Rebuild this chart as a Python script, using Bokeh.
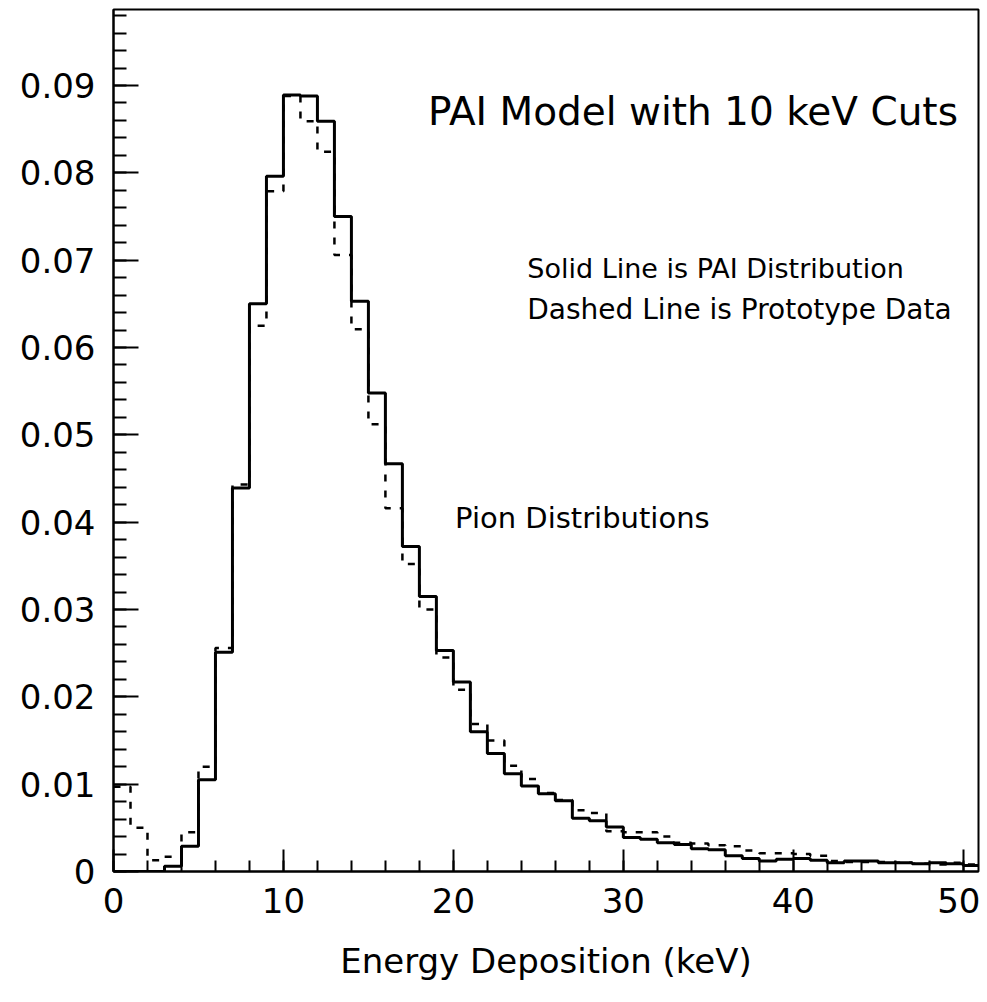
from bokeh.plotting import figure
from bokeh.models import Range1d, SingleIntervalTicker, Label, ColumnDataSource
from bokeh.embed import file_html
from bokeh.resources import INLINE

# 1 keV bins, edges 0..51
bin_edges = list(range(0, 52))

pai_values = [0, 0, 0, 0.0006, 0.0029, 0.0105, 0.0251, 0.0439, 0.0650, 0.0796,
              0.0889, 0.0888, 0.0859, 0.0750, 0.0653, 0.0548, 0.0467, 0.0372, 0.0315, 0.0253,
              0.0217, 0.0160, 0.0135, 0.0112, 0.0098, 0.0089, 0.0081, 0.0061, 0.0058, 0.0051,
              0.0039, 0.0037, 0.0033, 0.0031, 0.0026, 0.0025, 0.0018, 0.0015, 0.0012, 0.0014,
              0.0015, 0.0013, 0.0010, 0.0012, 0.0012, 0.0010, 0.0010, 0.0009, 0.0010, 0.0009,
              0.0007]

data_values = [0.0097, 0.0050, 0.0013, 0.0017, 0.0045, 0.0120, 0.0256, 0.0443, 0.0625, 0.0779,
               0.0888, 0.0859, 0.0824, 0.0706, 0.0621, 0.0512, 0.0416, 0.0352, 0.0300, 0.0245,
               0.0208, 0.0169, 0.0150, 0.0121, 0.0106, 0.0090, 0.0082, 0.0070, 0.0067, 0.0046,
               0.0045, 0.0045, 0.0040, 0.0033, 0.0032, 0.0030, 0.0029, 0.0024, 0.0021, 0.0021,
               0.0020, 0.0018, 0.0012, 0.0011, 0.0011, 0.0011, 0.0010, 0.0009, 0.0008, 0.0010,
               0.0008]

x_title = "Energy Deposition (keV)"
title_text = "PAI Model with 10 keV Cuts"
note_solid = "Solid Line is PAI Distribution"
note_dashed = "Dashed Line is Prototype Data"
note_pion = "Pion Distributions"

FONT = "DejaVu Sans"

p = figure(width=980, height=1000, output_backend="svg", toolbar_location=None,
           x_range=Range1d(0, 50.9), y_range=Range1d(0, 0.0987),
           min_border_left=113, min_border_right=2, min_border_top=9, min_border_bottom=129)

p.background_fill_color = "white"
p.border_fill_color = "white"
p.outline_line_color = "black"
p.outline_line_width = 2
p.xgrid.visible = False
p.ygrid.visible = False

p.xaxis.ticker = SingleIntervalTicker(interval=10, num_minor_ticks=5)
p.yaxis.ticker = SingleIntervalTicker(interval=0.01, num_minor_ticks=5)
for ax in (p.xaxis[0], p.yaxis[0]):
    ax.axis_line_color = "black"
    ax.axis_line_width = 2
    ax.major_tick_line_color = "black"
    ax.minor_tick_line_color = "black"
    ax.major_tick_line_width = 2
    ax.minor_tick_line_width = 2
    ax.major_tick_out = 0
    ax.minor_tick_out = 0
    ax.major_label_text_font = FONT
    ax.major_label_text_font_size = "34px"
    ax.major_label_text_color = "black"

p.xaxis.major_tick_in = 22
p.xaxis.minor_tick_in = 11
p.yaxis.major_tick_in = 25
p.yaxis.minor_tick_in = 13
p.xaxis.major_label_standoff = 16
p.yaxis.major_label_standoff = 18
p.yaxis.major_label_overrides = {0: "0", 0.01: "0.01", 0.02: "0.02", 0.03: "0.03", 0.04: "0.04",
                                 0.05: "0.05", 0.06: "0.06", 0.07: "0.07", 0.08: "0.08", 0.09: "0.09"}

p.xaxis.axis_label = x_title
p.xaxis.axis_label_text_font = FONT
p.xaxis.axis_label_text_font_style = "normal"
p.xaxis.axis_label_text_font_size = "34px"
p.xaxis.axis_label_text_color = "black"
p.xaxis.axis_label_standoff = 25

src_pai = ColumnDataSource(dict(x=bin_edges, y=pai_values + [pai_values[-1]]))
src_data = ColumnDataSource(dict(x=bin_edges, y=data_values + [data_values[-1]]))

p.step(x="x", y="y", source=src_data, mode="after", line_color="black",
       line_width=2.5, line_dash="7 9")
p.step(x="x", y="y", source=src_pai, mode="after", line_color="black", line_width=3)

p.add_layout(Label(x=18.5, y=0.0870, text=title_text, text_font=FONT, text_font_size="39px",
                   text_baseline="middle", text_align="left", text_color="black"))
p.add_layout(Label(x=24.35, y=0.0690, text=note_solid, text_font=FONT, text_font_size="27px",
                   text_baseline="middle", text_align="left", text_color="black"))
p.add_layout(Label(x=24.35, y=0.0644, text=note_dashed, text_font=FONT, text_font_size="28px",
                   text_baseline="middle", text_align="left", text_color="black"))
p.add_layout(Label(x=20.1, y=0.0405, text=note_pion, text_font=FONT, text_font_size="29px",
                   text_baseline="middle", text_align="left", text_color="black"))

open("out.html", "w").write(file_html(p, INLINE))
